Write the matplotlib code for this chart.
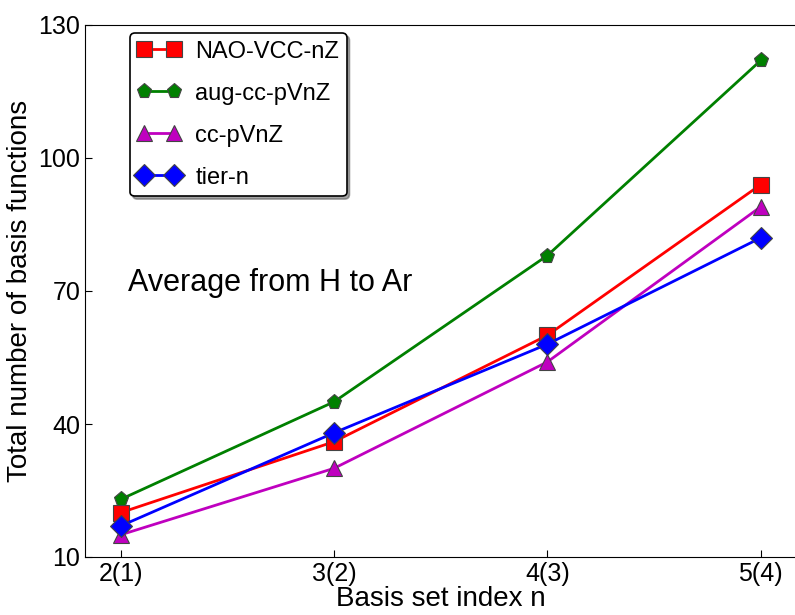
import matplotlib
matplotlib.use('Agg')
import matplotlib.pyplot as plt

# basis set index n (tier index in brackets)
xlabels = ['2(1)', '3(2)', '4(3)', '5(4)']
xpos = [1, 2, 3, 4]

nao_vcc = [20, 36, 60, 94]
aug_cc = [23, 45, 78, 122]
cc_pv = [15, 30, 54, 89]
tier_n = [17, 38, 58, 82]

plt.rcParams['font.family'] = ['Liberation Sans', 'DejaVu Sans']


def run_plot():
    fig = plt.figure(figsize=(7.95, 6.15), dpi=100)
    ax = fig.add_axes([85 / 795, 58 / 615, 712 / 795, 532 / 615])

    kw = dict(lw=2, ms=11, mec='#444444', mew=0.8)
    ax.plot(xpos, nao_vcc, 's-', color='red', label='NAO-VCC-nZ', **kw)
    ax.plot(xpos, aug_cc, 'p-', color='green', label='aug-cc-pVnZ', **kw)
    ax.plot(xpos, cc_pv, '^-', color='m', label='cc-pVnZ', **kw)
    ax.plot(xpos, tier_n, 'D-', color='blue', label='tier-n', **kw)

    ax.set_xlim(0.833, 4.17)
    ax.set_ylim(10, 130)
    ax.set_yticks([10, 40, 70, 100, 130])
    ax.set_xticks(xpos)
    ax.set_xticklabels(xlabels)
    ax.tick_params(direction='in', labelsize=18, length=5)

    ax.set_xlabel('Basis set index n', fontsize=20, labelpad=0)
    ax.set_ylabel('Total number of basis functions', fontsize=20, labelpad=4)

    ax.text(0.06, 0.515, 'Average from H to Ar', transform=ax.transAxes,
            fontsize=22, va='center')

    leg = ax.legend(loc='upper left', bbox_to_anchor=(0.063, 0.985), fontsize=17,
                    shadow=True, fancybox=True, numpoints=2, handlelength=1.85,
                    labelspacing=0.85, borderpad=0.32, handletextpad=0.6,
                    borderaxespad=0)
    leg.get_frame().set_edgecolor('black')
    leg.get_frame().set_linewidth(1.2)

    fig.savefig('out.png', dpi=100)


if __name__ == '__main__':
    run_plot()
